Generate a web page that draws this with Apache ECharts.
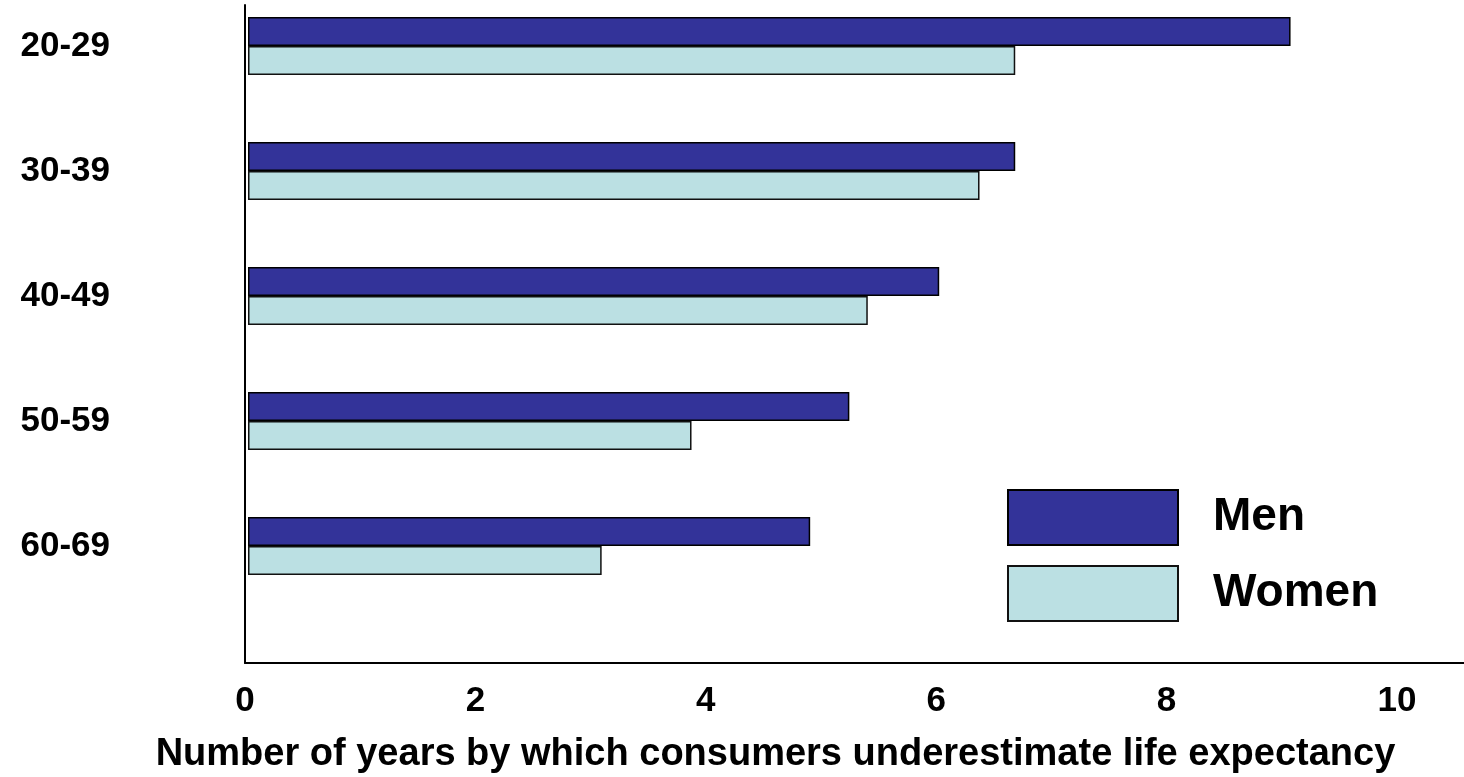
<!DOCTYPE html>
<html>
<head>
<meta charset="utf-8">
<script src="https://cdn.jsdelivr.net/npm/echarts@6/dist/echarts.min.js"></script>
<style>
html,body{margin:0;padding:0;background:#fff;}
#chart{width:1464px;height:777px;}
</style>
</head>
<body>
<div id="chart"></div>
<script>
const categories = ['20-29', '30-39', '40-49', '50-59', '60-69'];
const menValues = [9.05, 6.66, 6.0, 5.22, 4.88];
const womenValues = [6.66, 6.35, 5.38, 3.85, 3.07];
const seriesNames = ['Men', 'Women'];
const xAxisTitle = 'Number of years by which consumers underestimate life expectancy';
const xMin = 0, xInterval = 2, xLastLabel = 10;

const FONT = '"Liberation Sans", Arial, sans-serif';
const chart = echarts.init(document.getElementById('chart'));
const pxPerUnit = 115.2;

const option = {
  animation: false,
  backgroundColor: '#ffffff',
  textStyle: { fontFamily: FONT },
  legend: {
    data: seriesNames,
    orient: 'vertical',
    left: 1007,
    top: 489,
    padding: 0,
    itemWidth: 170,
    itemHeight: 55,
    itemGap: 19,
    icon: 'rect',
    selectedMode: false,
    textStyle: { fontFamily: FONT, fontSize: 46, fontWeight: 'bold', color: '#000', padding: [0, 0, 0, 30] }
  },
  grid: [
    { left: 248, right: 0, top: 46, height: 500, containLabel: false, outerBoundsMode: 'none' },
    { left: 245, right: 0, top: 5, bottom: 114, containLabel: false, outerBoundsMode: 'none' }
  ],
  xAxis: [
    {
      gridIndex: 0, type: 'value', min: xMin, max: (1464 - 248) / pxPerUnit,
      show: false, splitLine: { show: false }
    },
    {
      gridIndex: 1, type: 'value', min: xMin, max: (1464 - 245) / pxPerUnit, interval: xInterval,
      axisLine: { show: true, lineStyle: { color: '#000', width: 2 } },
      axisTick: { show: false },
      splitLine: { show: false },
      showMaxLabel: false,
      axisLabel: {
        margin: 21, fontFamily: FONT, fontSize: 35, fontWeight: 'bold', color: '#000',
        formatter: v => (v % xInterval === 0 && v <= xLastLabel) ? String(v) : ''
      },
      name: xAxisTitle,
      nameLocation: 'middle',
      nameGap: 73,
      nameTextStyle: { fontFamily: FONT, fontSize: 38, fontWeight: 'bold', color: '#000', padding: [0, 158, 0, 0] }
    }
  ],
  yAxis: [
    {
      gridIndex: 0, type: 'category', data: categories, inverse: true, boundaryGap: false,
      axisLine: { show: false }, axisTick: { show: false }, splitLine: { show: false },
      axisLabel: { margin: 138, fontFamily: FONT, fontSize: 35, fontWeight: 'bold', color: '#000' }
    },
    {
      gridIndex: 1, type: 'value', min: 0, max: 1,
      axisLine: { show: true, lineStyle: { color: '#000', width: 2 } },
      axisTick: { show: false }, axisLabel: { show: false }, splitLine: { show: false }
    }
  ],
  series: [
    {
      name: seriesNames[0], type: 'bar', xAxisIndex: 0, yAxisIndex: 0, clip: false,
      data: menValues, barWidth: 29, barGap: 0,
      itemStyle: { color: '#333399', borderColor: '#000', borderWidth: 1.5 }
    },
    {
      name: seriesNames[1], type: 'bar', xAxisIndex: 0, yAxisIndex: 0, clip: false,
      data: womenValues, barWidth: 29, barGap: 0,
      itemStyle: { color: '#BBE0E3', borderColor: '#111', borderWidth: 1.5 }
    }
  ]
};
chart.setOption(option);
</script>
</body>
</html>
